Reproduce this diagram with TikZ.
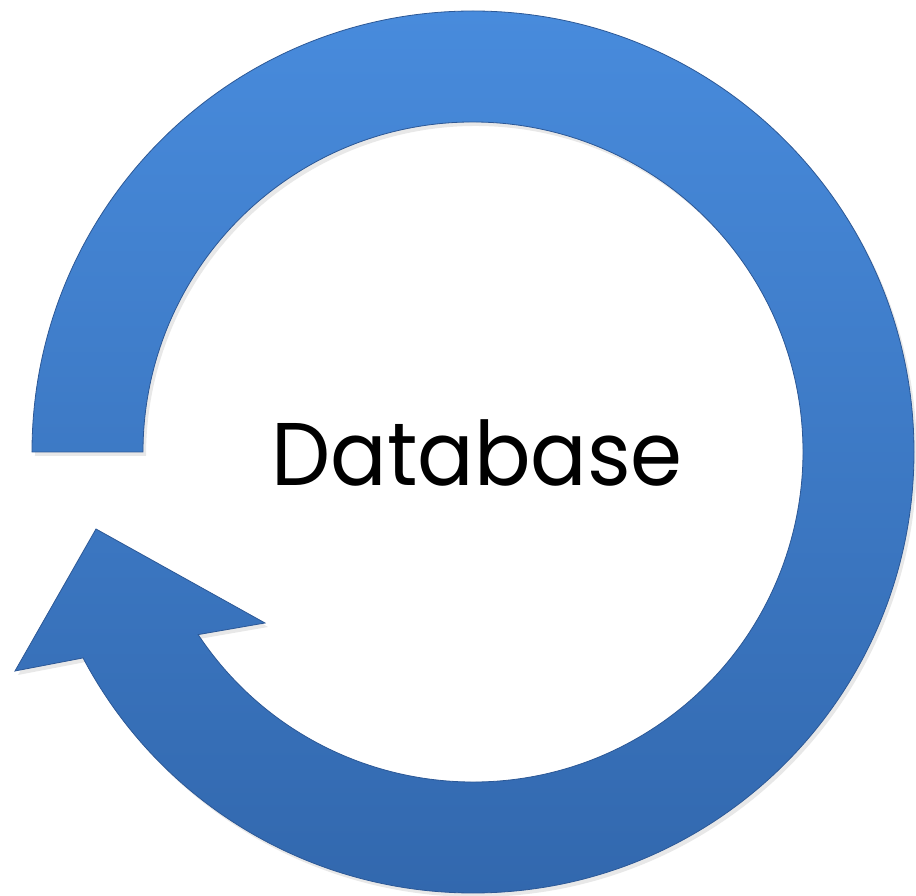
\documentclass[tikz,border=0pt]{standalone}
\usepackage{fontspec}
\setmainfont{Poppins}
\usetikzlibrary{shadows}

\definecolor{ringtop}{RGB}{72,139,220}
\definecolor{ringbot}{RGB}{50,104,174}
\definecolor{ringline}{RGB}{44,88,150}

\tikzset{
  ring/.style={top color=ringtop, bottom color=ringbot, draw=ringline, line width=0.8pt,
    drop shadow={opacity=0.18, shadow xshift=3pt, shadow yshift=-4pt}},
  label/.style={font=\fontsize{89}{90}\selectfont, text=black, inner sep=0pt}
}

\begin{document}
\begin{tikzpicture}[x=1pt, y=1pt]

    \useasboundingbox (-473,-444) rectangle (443,452);

    % arrow head corners
    \coordinate (BL) at (-458,-219);
    \coordinate (TIP) at (-377,-77);
    \coordinate (BR) at (-208,-171);

    \draw[ring] (180:441) arc[start angle=180, end angle=-152.16, radius=441]
        -- (BL) -- (TIP) -- (BR)
        -- (-146.4:330) arc[start angle=-146.4, end angle=180, radius=330] -- cycle;

    \node[label, anchor=base] (DB) at (4,-34) {\scalebox{0.94}[1]{Database}};

\end{tikzpicture}
\end{document}
